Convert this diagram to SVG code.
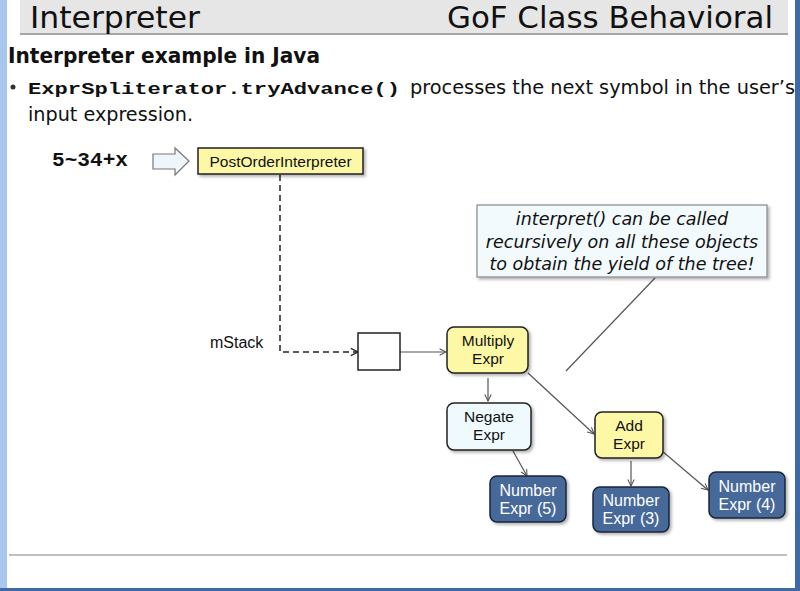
<svg xmlns="http://www.w3.org/2000/svg" width="800" height="591" viewBox="0 0 800 591">
<defs>
<style>
.title{font-family:"DejaVu Sans Condensed","Liberation Sans",sans-serif;font-size:31px;fill:#111}
.sans{font-family:"Liberation Sans",Arial,sans-serif}
.body{font-family:"DejaVu Sans Condensed","Liberation Sans",sans-serif;font-size:20px;fill:#111}
.mono{font-family:"Liberation Mono","Courier New",monospace;font-weight:bold}
.node{stroke:#222;stroke-width:1.5}
.yellow{fill:#fdf8a6}
.light{fill:#eefafd}
.blue{fill:#46699a;stroke:#18263c}
.lbl{font-family:"Liberation Sans",Arial,sans-serif;font-size:15.5px;fill:#111;text-anchor:middle}
.wlbl{font-family:"Liberation Sans",Arial,sans-serif;font-size:16px;fill:#fff;text-anchor:middle}
.conn{stroke:#555;stroke-width:1.2;fill:none}
.note{font-family:"DejaVu Sans","Liberation Sans",sans-serif;font-style:italic;font-size:17.5px;fill:#111;text-anchor:middle}
</style>
<marker id="open" viewBox="0 0 10 10" refX="9" refY="5" markerWidth="8" markerHeight="8" orient="auto" markerUnits="userSpaceOnUse">
<path d="M1,1 L9,5 L1,9" fill="none" stroke="#555" stroke-width="1.3"/>
</marker>
<marker id="openDark" viewBox="0 0 10 10" refX="9" refY="5" markerWidth="9" markerHeight="9" orient="auto" markerUnits="userSpaceOnUse">
<path d="M1,1 L9,5 L1,9" fill="none" stroke="#222" stroke-width="1.5"/>
</marker>
<filter id="sh" x="-10%" y="-10%" width="130%" height="140%">
<feDropShadow dx="2" dy="2" stdDeviation="1.5" flood-color="#000" flood-opacity="0.3"/>
</filter>
</defs>
<rect width="800" height="591" fill="#fff"/>
<rect x="0" y="0" width="7" height="591" fill="#a9c7ee"/>
<rect x="795" y="0" width="5" height="591" fill="#3d6aa6"/>
<rect x="0" y="588" width="800" height="3" fill="#3d6aa6"/>
<rect x="20" y="0" width="768" height="33" fill="#e6e6e6"/>
<line x1="20" y1="34" x2="788" y2="34" stroke="#888" stroke-width="1.5"/>
<text class="title" x="30" y="28" textLength="170" lengthAdjust="spacingAndGlyphs">Interpreter</text>
<text class="title" x="447" y="28" textLength="326" lengthAdjust="spacingAndGlyphs">GoF Class Behavioral</text>
<text x="8" y="63" font-family="DejaVu Sans Condensed,Liberation Sans,sans-serif" font-weight="bold" font-size="21" fill="#111" textLength="312" lengthAdjust="spacingAndGlyphs">Interpreter example in Java</text>
<circle cx="13" cy="87" r="2.5" fill="#333"/>
<text x="28" y="94" class="mono" font-size="17" fill="#111" textLength="372" lengthAdjust="spacingAndGlyphs">ExprSpliterator.tryAdvance()</text>
<text class="body" x="410" y="94" textLength="385" lengthAdjust="spacingAndGlyphs">processes the next symbol in the user’s</text>
<text class="body" x="28" y="121" textLength="165" lengthAdjust="spacingAndGlyphs">input expression.</text>
<text x="52" y="166" class="mono" font-size="20" fill="#111" textLength="76" lengthAdjust="spacingAndGlyphs">5~34+x</text>
<path d="M153,154 H175 V148 L189,161 L175,175 V169 H153 Z" fill="#eef6fb" stroke="#777" stroke-width="1.2"/>
<text class="sans" x="210" y="348" font-size="16" fill="#111">mStack</text>
<g id="connectors">
<path d="M280,175 V352 H358" fill="none" stroke="#222" stroke-width="1.5" stroke-dasharray="6,4" marker-end="url(#openDark)"/>
<line class="conn" x1="400" y1="352" x2="446" y2="352" marker-end="url(#open)"/>
<line class="conn" x1="488" y1="378" x2="488" y2="401" marker-end="url(#open)"/>
<line class="conn" x1="513" y1="451" x2="527" y2="476" marker-end="url(#open)"/>
<line class="conn" x1="528" y1="373" x2="594" y2="434" marker-end="url(#open)"/>
<line class="conn" x1="631" y1="461" x2="631" y2="486" marker-end="url(#open)"/>
<line class="conn" x1="662" y1="451" x2="708" y2="490" marker-end="url(#open)"/>
<line class="conn" x1="655" y1="278" x2="566" y2="371"/>
</g>
<g id="postorder">
<rect class="node yellow" x="198" y="148" width="165" height="26" filter="url(#sh)"/>
<text class="lbl" x="280.5" y="166.5">PostOrderInterpreter</text>
</g>
<g id="stack">
<rect x="358" y="333" width="42" height="37" fill="#fff" stroke="#222" stroke-width="1.5"/>
</g>
<g id="multiply">
<rect class="node yellow" x="447" y="327" width="81" height="46" rx="7" filter="url(#sh)"/>
<text class="lbl" x="488" y="346">Multiply</text>
<text class="lbl" x="488" y="364">Expr</text>
</g>
<g id="negate">
<rect class="node light" x="447" y="403" width="84" height="47" rx="7" filter="url(#sh)"/>
<text class="lbl" x="489" y="422">Negate</text>
<text class="lbl" x="489" y="440">Expr</text>
</g>
<g id="num5">
<rect class="node blue" x="490" y="476" width="76" height="46" rx="7" filter="url(#sh)"/>
<text class="wlbl" x="528" y="496">Number</text>
<text class="wlbl" x="528" y="514">Expr (5)</text>
</g>
<g id="add">
<rect class="node yellow" x="595" y="412" width="68" height="46" rx="7" filter="url(#sh)"/>
<text class="lbl" x="629" y="431">Add</text>
<text class="lbl" x="629" y="449">Expr</text>
</g>
<g id="num3">
<rect class="node blue" x="593" y="487" width="76" height="45" rx="7" filter="url(#sh)"/>
<text class="wlbl" x="631" y="506">Number</text>
<text class="wlbl" x="631" y="524">Expr (3)</text>
</g>
<g id="num4">
<rect class="node blue" x="709" y="472" width="76" height="46" rx="7" filter="url(#sh)"/>
<text class="wlbl" x="747" y="492">Number</text>
<text class="wlbl" x="747" y="510">Expr (4)</text>
</g>
<g id="note">
<rect x="477" y="205" width="290" height="72" fill="#f2fafd" stroke="#888" stroke-width="1.2" filter="url(#sh)"/>
<text class="note" x="622" y="225">interpret() can be called</text>
<text class="note" x="622" y="248">recursively on all these objects</text>
<text class="note" x="622" y="270">to obtain the yield of the tree!</text>
</g>
<line x1="9" y1="555" x2="787" y2="555" stroke="#aaa" stroke-width="1.5"/>
</svg>
